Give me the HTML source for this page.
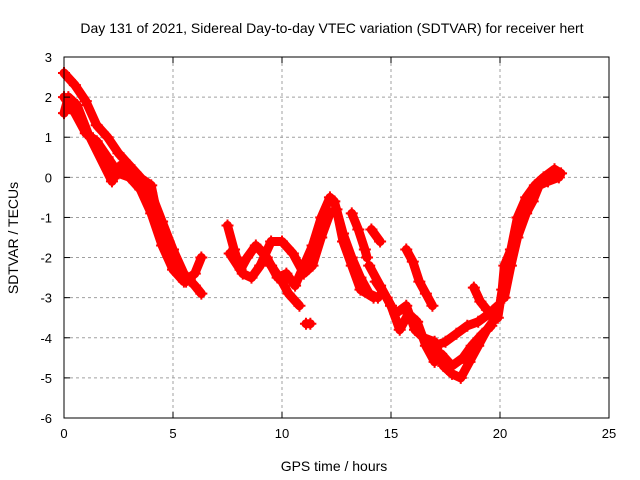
<!DOCTYPE html>
<html><head><meta charset="utf-8"><style>
body{margin:0;background:#fff}
svg{display:block;font-family:"Liberation Sans",sans-serif}
</style></head><body>
<svg id="chart" width="640" height="480">
<rect width="640" height="480" fill="#fff"/>
<text x="332" y="33" font-size="14" text-anchor="middle">Day 131 of 2021, Sidereal Day-to-day VTEC variation (SDTVAR) for receiver hert</text>
<text x="334" y="471" font-size="14" text-anchor="middle">GPS time / hours</text>
<text x="0" y="0" font-size="14" text-anchor="middle" transform="translate(18,238) rotate(-90)">SDTVAR / TECUs</text>
<g id="grid"></g><g id="marks"></g><g id="axes"></g>
</svg>
<script>
const xTicks=[0,5,10,15,20,25];
const yTicks=[3,2,1,0,-1,-2,-3,-4,-5,-6];
const track1=[[0,2.6],[0.5,2.3],[1,1.9],[1.5,1.3],[2,1.0],[2.5,0.6],[3,0.3],[3.5,0.0],[4,-0.4],[4.5,-1.1],[5,-1.8],[5.5,-2.4],[6,-2.7],[6.3,-2.9]];
const track2=[[0,2.0],[0.5,1.6],[1,1.1],[1.5,0.9],[2,0.5],[2.5,0.1],[3,0.0],[3.5,-0.3],[4,-0.9],[4.5,-1.7],[5,-2.3],[5.5,-2.6],[6,-2.4],[6.3,-2.0]];
const track3=[[0,1.6],[0.2,2.0],[0.6,1.8],[1.1,1.1],[2.2,-0.1],[2.6,0.3],[3.2,0.1],[4,-0.2],[4.3,-1.0],[4.8,-1.6],[5.2,-2.2],[5.6,-2.6]];
const track4=[[7.5,-1.2],[7.8,-1.8],[8.1,-2.3],[8.4,-2.0],[8.8,-1.7],[9.3,-2.0],[9.8,-2.5],[10.2,-2.4],[10.6,-2.7],[11.0,-2.2],[11.4,-1.7],[11.8,-1.0],[12.2,-0.5],[12.4,-0.6],[12.8,-1.4],[13.2,-2.0],[13.6,-2.5],[14.0,-2.9],[14.4,-3.0]];
const track5=[[7.6,-1.9],[8.2,-2.4],[8.6,-2.5],[9.0,-2.2],[9.5,-1.6],[10,-1.6],[10.5,-1.9],[11.0,-2.4],[11.4,-2.2],[11.8,-1.5],[12.2,-0.9],[12.5,-0.8],[12.8,-1.6],[13.2,-2.2],[13.6,-2.8],[14.2,-3.0]];
const track6=[[9.0,-1.8],[9.5,-2.2],[10,-2.6],[10.3,-2.9],[10.8,-3.2]];
const track7=[[11.1,-3.65],[11.3,-3.65]];
const track8=[[13.2,-0.9],[13.5,-1.3],[13.8,-1.8],[13.9,-2.0]];
const track9=[[14.1,-1.3],[14.5,-1.6]];
const track10=[[15.7,-1.8],[16.0,-2.1],[16.3,-2.6],[16.6,-2.9],[16.9,-3.2]];
const track11=[[14.0,-2.2],[14.5,-2.7],[15.0,-3.2],[15.4,-3.8],[15.8,-3.4],[16.2,-3.6],[16.6,-4.2],[17.0,-4.6]];
const track12=[[14.3,-2.6],[14.8,-3.0],[15.2,-3.4],[15.7,-3.2],[16.1,-3.8],[16.5,-4.0],[17,-4.1],[17.4,-4.7],[17.8,-4.9],[18.2,-5.0],[18.6,-4.6],[19,-4.2],[19.4,-3.8],[19.8,-3.5]];
const track13=[[17.0,-4.2],[17.5,-4.1],[18,-3.9],[18.5,-3.7],[19,-3.6],[19.5,-3.4],[19.9,-3.2]];
const track14=[[17.3,-4.4],[17.8,-4.7],[18.3,-4.5],[18.7,-4.2],[19.2,-3.9],[19.6,-3.7]];
const track15=[[18.8,-2.75],[19.1,-3.1],[19.4,-3.3]];
const track16=[[19.9,-3.5],[20.1,-2.8],[20.2,-2.2],[20.5,-1.8],[20.8,-1.0],[21.2,-0.5],[21.6,-0.2],[22,0],[22.5,0.2],[22.8,0.1]];
const track17=[[20.2,-3.0],[20.5,-2.2],[20.8,-1.5],[21.2,-0.9],[21.5,-0.6],[21.8,-0.2],[22.2,-0.1],[22.7,0.0]];
const tracks=[track1,track2,track3,track4,track5,track6,track7,track8,track9,track10,track11,track12,track13,track14,track15,track16,track17];

const X0=64,X1=609,Y0=57,Y1=418;
const sx=v=>X0+(v-0)/(25-0)*(X1-X0);
const sy=v=>Y0+(3-v)/(3-(-6))*(Y1-Y0);
const NS="http://www.w3.org/2000/svg";
const grid=document.getElementById('grid'),marks=document.getElementById('marks'),axes=document.getElementById('axes');
function mk(tag,attrs,parent){const e=document.createElementNS(NS,tag);for(const k in attrs)e.setAttribute(k,attrs[k]);parent.appendChild(e);return e;}
xTicks.forEach(t=>{
  const x=sx(t);
  if(t>0&&t<25){const g=mk('line',{x1:x,y1:Y0,x2:x,y2:Y1,stroke:'#a0a0a0','stroke-dasharray':'3,3'},grid);
  
  }
  const tk=mk('line',{x1:x,y1:Y1,x2:x,y2:Y1-6,stroke:'#000'},axes);
  
  
  const tk2=mk('line',{x1:x,y1:Y0,x2:x,y2:Y0+6,stroke:'#000'},axes);
  
  
  const l=mk('text',{x:x,y:Y1+20,'font-size':13,'text-anchor':'middle'},axes);l.textContent=t;
  
  
});
yTicks.forEach(t=>{
  const y=sy(t);
  if(t<3&&t>-6){const g=mk('line',{x1:X0,y1:y,x2:X1,y2:y,stroke:'#a0a0a0','stroke-dasharray':'3,3'},grid);
  
  }
  const tk=mk('line',{x1:X0,y1:y,x2:X0+6,y2:y,stroke:'#000'},axes);
  
  
  const tk2=mk('line',{x1:X1,y1:y,x2:X1-6,y2:y,stroke:'#000'},axes);
  
  
  const l=mk('text',{x:X0-12,y:y+5,'font-size':13,'text-anchor':'end'},axes);l.textContent=t;
  
  
});
const frame=mk('rect',{x:X0,y:Y0,width:X1-X0,height:Y1-Y0,fill:'none',stroke:'#000'},axes);


tracks.forEach(tr=>{
  const pl=mk('polyline',{points:tr.map(p=>sx(p[0])+','+sy(p[1])).join(' '),fill:'none',stroke:'#f00','stroke-width':9,'stroke-linejoin':'round','stroke-linecap':'round'},marks);
  
  
  tr.forEach(p=>{
    const x=sx(p[0]),y=sy(p[1]);
    const m=mk('path',{d:`M${x-6},${y}H${x+6}M${x},${y-6}V${y+6}`,stroke:'#f00','stroke-width':2},marks);
    
    
  });
});
</script>
</body></html>
